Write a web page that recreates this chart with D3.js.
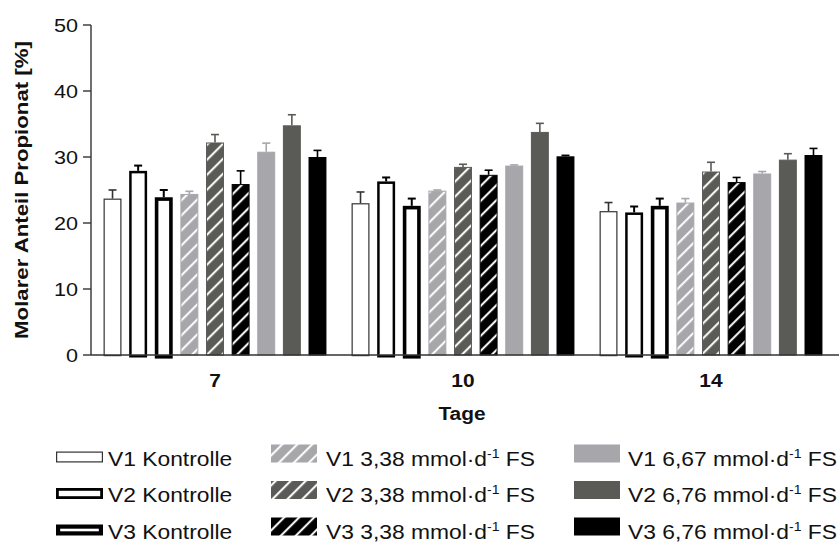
<!DOCTYPE html>
<html><head><meta charset="utf-8">
<script src="https://cdn.jsdelivr.net/npm/d3@7"></script>
<style>body{margin:0;background:#fff}svg{display:block}text{font-family:"Liberation Sans",Arial,sans-serif}</style>
</head><body>
<svg id="c" width="840" height="544"></svg>
<script>
const groups = ["7", "10", "14"];
const seriesNames = ["V1 Kontrolle", "V2 Kontrolle", "V3 Kontrolle",
  "V1 3,38", "V2 3,38", "V3 3,38",
  "V1 6,67", "V2 6,76", "V3 6,76"];
const means = [
  [23.7, 23.0, 21.8],
  [27.9, 26.3, 21.6],
  [23.9, 22.6, 22.6],
  [24.4, 24.9, 23.1],
  [32.2, 28.5, 27.8],
  [25.9, 27.3, 26.2],
  [30.8, 28.7, 27.5],
  [34.8, 33.8, 29.6],
  [30.0, 30.1, 30.3]
];
const errors = [
  [1.3, 1.7, 1.3],
  [0.8, 0.6, 0.9],
  [1.1, 1.1, 1.1],
  [0.4, 0.1, 0.6],
  [1.2, 0.4, 1.4],
  [2.0, 0.7, 0.7],
  [1.3, 0.1, 0.3],
  [1.6, 1.3, 0.9],
  [1.0, 0.15, 1.0]
];
const yTicks = [0, 10, 20, 30, 40, 50];

// styles
const LG = "#a6a6ab", DG = "#5a5b56", BK = "#000";
const styles = [
  {fill:"#fff", stroke:"#333", sw:1.2, hatch:null, ec:"#333"},
  {fill:"#fff", stroke:BK, sw:2.5, hatch:null, ec:BK},
  {fill:"#fff", stroke:BK, sw:3.6, hatch:null, ec:BK},
  {fill:LG, stroke:LG, sw:1, hatch:"h1", ec:LG},
  {fill:DG, stroke:DG, sw:1, hatch:"h2", ec:DG},
  {fill:BK, stroke:BK, sw:1, hatch:"h3", ec:BK},
  {fill:LG, stroke:LG, sw:1, hatch:null, ec:LG},
  {fill:DG, stroke:DG, sw:1, hatch:null, ec:DG},
  {fill:BK, stroke:BK, sw:1, hatch:null, ec:BK}
];

const svg = d3.select("#c");
const defs = svg.append("defs");
[["h1", LG], ["h2", DG], ["h3", BK]].forEach(([id, col]) => {
  const p = defs.append("pattern").attr("id", id).attr("patternUnits", "userSpaceOnUse")
    .attr("width", 10.6).attr("height", 10.6).attr("patternTransform", "rotate(45)");
  p.append("rect").attr("width", 10.6).attr("height", 10.6).attr("fill", col);
  p.append("rect").attr("x", 4).attr("width", 2).attr("height", 10.6).attr("fill", "#fff");
});

const y = d3.scaleLinear().domain([0, 50]).range([355, 25]);
const x0 = d3.scaleBand().domain(groups).range([91, 835]).padding(0);
const x1 = d3.scaleBand().domain(d3.range(9)).range([0, x0.bandwidth()]).paddingInner(0.3).paddingOuter(0.49);

function stext(g, x, yy, s, anchor, fs, weight, rot) {
  const t = g.append("text")
    .attr("transform", `translate(${x},${yy})` + (rot ? ` rotate(${rot})` : "") + ` scale(${s},1)`)
    .attr("text-anchor", anchor).attr("font-size", fs).attr("font-weight", weight || "normal").attr("fill", "#111");
  return t;
}

// bars
for (let s = 0; s < 9; s++) {
  const st = styles[s];
  for (let gi = 0; gi < 3; gi++) {
    const bx = x0(groups[gi]) + x1(s), bw = x1.bandwidth();
    const v = means[s][gi], e = errors[s][gi];
    const inset = st.sw / 2;
    const cx = bx + bw / 2;
    // error bar
    svg.append("line").attr("x1", cx).attr("x2", cx).attr("y1", y(v)).attr("y2", y(v + e))
      .attr("stroke", st.ec).attr("stroke-width", s === 1 || s === 2 ? 2 : 1.6);
    svg.append("line").attr("x1", cx - 4).attr("x2", cx + 4).attr("y1", y(v + e)).attr("y2", y(v + e))
      .attr("stroke", st.ec).attr("stroke-width", s === 1 || s === 2 ? 2 : 1.6);
    svg.append("rect")
      .attr("x", bx + inset).attr("width", bw - 2 * inset)
      .attr("y", y(v) + inset).attr("height", y(0) - y(v) - (s < 3 ? 0 : inset))
      .attr("fill", st.hatch ? `url(#${st.hatch})` : st.fill)
      .attr("stroke", st.stroke).attr("stroke-width", st.sw);
  }
}

// axes
const axG = svg.append("g");
axG.append("line").attr("x1", 91).attr("x2", 91).attr("y1", y(50)).attr("y2", y(0)).attr("stroke", "#333").attr("stroke-width", 1.4);
axG.append("line").attr("x1", 91).attr("x2", 839).attr("y1", y(0)).attr("y2", y(0)).attr("stroke", "#333").attr("stroke-width", 1.4);
yTicks.forEach(t => {
  axG.append("line").attr("x1", 83).attr("x2", 91).attr("y1", y(t)).attr("y2", y(t)).attr("stroke", "#333").attr("stroke-width", 1.4);
  stext(axG, 78, y(t) + 6.5, 1.2, "end", 18).text(t);
});
groups.forEach(g => {
  stext(axG, x0(g) + x0.bandwidth() / 2, 387, 1.1, "middle", 19, "bold").text(g);
});
stext(axG, 462, 420, 1.1, "middle", 19, "bold").text("Tage");
stext(axG, 28, 190, 1.17, "middle", 19, "bold", -90).text("Molarer Anteil Propionat [%]");

// legend
const leg = svg.append("g");
const baselines = [465.5, 502, 538.5];
const colText = [108, 326, 628];
for (let s = 0; s < 9; s++) {
  const col = Math.floor(s / 3), row = s % 3, st = styles[s];
  const bl = baselines[row];
  if (col === 0) {
    const h = 11, w = 47, sx = 56, sy = bl - 3 - h;
    const sw = [1.2, 2.8, 4.2][row];
    leg.append("rect").attr("x", sx + sw / 2).attr("y", sy + sw / 2).attr("width", w - sw).attr("height", h - sw)
      .attr("fill", "#fff").attr("stroke", st.stroke).attr("stroke-width", sw);
  } else {
    const h = 18, w = 46, sx = col === 1 ? 271 : 574, sy = bl - 3 - h;
    leg.append("rect").attr("x", sx).attr("y", sy).attr("width", w).attr("height", h)
      .attr("fill", st.hatch ? `url(#${st.hatch})` : st.fill);
  }
  const t = stext(leg, colText[col], bl, 1.17, "start", 19.5);
  if (col === 0) t.text(seriesNames[s]);
  else {
    t.append("tspan").text(seriesNames[s] + " mmol\u00B7d");
    t.append("tspan").attr("font-size", 12).attr("dy", -8).text("-1");
    t.append("tspan").attr("dy", 8).text(" FS");
  }
}
</script>
</body></html>
